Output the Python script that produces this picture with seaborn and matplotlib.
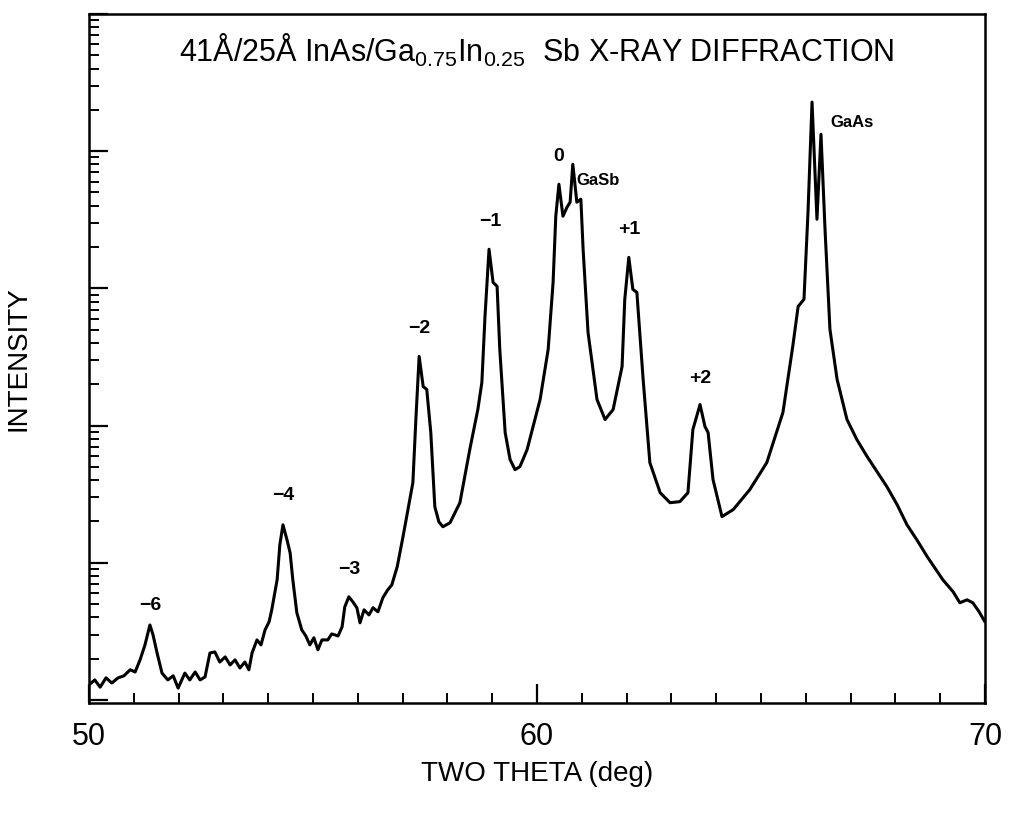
import numpy as np
import pandas as pd
import seaborn as sns
import matplotlib.pyplot as plt
from matplotlib.ticker import MultipleLocator, FixedLocator, LogLocator, NullFormatter

# Two-theta (deg) and intensity (counts)
two_theta = [50.00, 50.13, 50.25, 50.38, 50.51, 50.65, 50.78, 50.92, 51.03, 51.14,
             51.25, 51.36, 51.43, 51.52, 51.63, 51.76, 51.88, 51.99, 52.14, 52.25,
             52.37, 52.48, 52.59, 52.70, 52.81, 52.92, 53.04, 53.15, 53.26, 53.37,
             53.48, 53.57, 53.64, 53.75, 53.84, 53.93, 54.02, 54.08, 54.20, 54.26,
             54.33, 54.42, 54.49, 54.55, 54.64, 54.75, 54.84, 54.93, 55.02, 55.11,
             55.20, 55.33, 55.42, 55.56, 55.65, 55.71, 55.80, 55.89, 55.98, 56.05,
             56.14, 56.25, 56.34, 56.45, 56.56, 56.67, 56.76, 56.88, 57.01, 57.12,
             57.23, 57.30, 57.37, 57.46, 57.54, 57.63, 57.72, 57.81, 57.90, 58.06,
             58.28, 58.50, 58.68, 58.77, 58.84, 58.93, 59.02, 59.11, 59.17, 59.29,
             59.40, 59.51, 59.62, 59.78, 60.07, 60.25, 60.36, 60.42, 60.49, 60.58,
             60.67, 60.74, 60.80, 60.89, 60.98, 61.03, 61.14, 61.34, 61.52, 61.70,
             61.90, 61.96, 62.05, 62.14, 62.23, 62.37, 62.52, 62.75, 62.97, 63.19,
             63.37, 63.48, 63.64, 63.75, 63.82, 63.93, 64.13, 64.38, 64.75, 65.13,
             65.49, 65.71, 65.83, 65.96, 66.05, 66.14, 66.25, 66.34, 66.43, 66.54,
             66.70, 66.92, 67.14, 67.37, 67.59, 67.81, 68.04, 68.26, 68.48, 68.71,
             69.06, 69.29, 69.44, 69.60, 69.73, 69.87, 70.00]
intensity = [12.9, 14.0, 12.4, 14.5, 13.3, 14.5, 15.0, 16.6, 16.0, 19.6,
             25.2, 35.2, 29.8, 22.0, 15.7, 14.0, 15.0, 12.2, 15.7, 14.0,
             16.0, 14.0, 14.7, 22.0, 22.4, 18.9, 20.6, 18.0, 19.6, 17.1,
             18.9, 16.6, 22.0, 27.4, 25.2, 32.4, 37.1, 45.4, 75.2, 135,
             189, 147, 118, 75.2, 43.2, 32.4, 29.3, 25.2, 28.4, 23.2,
             27.4, 27.4, 30.3, 29.3, 34.1, 47.7, 56.5, 51.9, 47.0, 36.5,
             45.4, 41.7, 47.0, 43.9, 55.6, 63.5, 69.0, 93.5, 155, 244,
             384, 1164, 3190, 1927, 1832, 889, 256, 199, 183, 196,
             274, 668, 1309, 2061, 6250, 19280, 11070, 10350, 3590, 889,
             565, 477, 502, 668, 1549, 3590, 11070, 33570, 57410, 33570,
             39000, 42460, 80350, 42460, 44670, 19280, 4775, 1549, 1107, 1309,
             2697, 8318, 16830, 9840, 9350, 2168, 537, 324, 274, 279,
             324, 935, 1423, 984, 889, 404, 217, 244, 341, 537,
             1245, 3776, 7390, 8318, 35890, 228000, 31900, 133000, 26980, 5020,
             2168, 1107, 791, 594, 462, 359, 265, 189, 147, 111,
             75.2, 61.4, 51.1, 53.7, 51.1, 43.9, 37.1]

# Peak labels and where they sit
peak_labels = ["\u22126", "\u22124", "\u22123", "\u22122", "\u22121", "0", "GaSb", "+1", "+2", "GaAs"]
label_theta = [51.36, 54.33, 55.80, 57.37, 58.95, 60.49, 61.36, 62.05, 63.64, 67.03]
label_counts = [49, 309, 89, 5100, 30800, 92000, 61400, 27000, 2200, 163000]

df = pd.DataFrame({"two_theta": two_theta, "intensity": intensity})

sns.set_style("ticks")
plt.rcParams['font.family'] = ['Liberation Sans', 'DejaVu Sans']
plt.rcParams['mathtext.default'] = 'regular'
plt.rcParams['text.color'] = 'black'
plt.rcParams['axes.labelcolor'] = 'black'

fig = plt.figure(figsize=(10.1, 8.17), dpi=100)
ax = fig.add_axes([0.0881, 0.1395, 0.8871, 0.8434])

sns.lineplot(data=df, x="two_theta", y="intensity", color="black", linewidth=2.2,
             estimator=None, ax=ax)
ax.set_yscale("log")
ax.set_xlim(50, 70)
ax.set_ylim(9.5, 1.0e6)

for lab, tx, cy in zip(peak_labels, label_theta, label_counts):
    small = lab in ("GaSb", "GaAs")
    ax.text(tx, cy, lab, ha="center", va="center", fontsize=12 if small else 14,
            fontweight="bold", color="black")

ax.text(0.50, 0.930,
        "41\u00c5/25\u00c5 InAs/Ga$_{0.75}$In$_{0.25}$  Sb X-RAY DIFFRACTION",
        transform=ax.transAxes, ha="center", va="baseline", fontsize=22,
        color="black")

# ticks: inward, left and bottom only, no y labels
ax.xaxis.set_major_locator(FixedLocator([50, 60, 70]))
ax.xaxis.set_minor_locator(MultipleLocator(1))
ax.yaxis.set_major_locator(LogLocator(base=10, numticks=10))
ax.yaxis.set_minor_locator(LogLocator(base=10, subs=np.arange(2, 10), numticks=20))
ax.yaxis.set_major_formatter(NullFormatter())
ax.yaxis.set_minor_formatter(NullFormatter())
ax.tick_params(axis="both", which="major", direction="in", length=14, width=1.6,
               colors="black")
ax.tick_params(axis="both", which="minor", direction="in", length=7, width=1.4,
               colors="black")
ax.tick_params(axis="x", which="major", labelsize=22, pad=14, labelcolor="black")

for sp in ax.spines.values():
    sp.set_visible(True)
    sp.set_linewidth(1.8)
    sp.set_color("black")

ax.set_xlabel("TWO THETA (deg)", fontsize=20, labelpad=6, color="black")
ax.set_ylabel("INTENSITY", fontsize=20, labelpad=38, color="black")

fig.savefig("out.png", dpi=100, facecolor="white")
